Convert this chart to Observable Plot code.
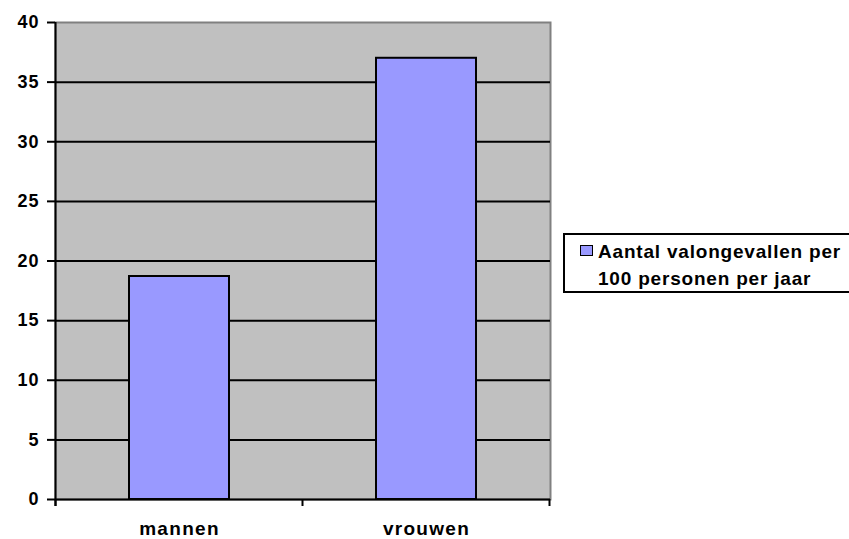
<!DOCTYPE html>
<html>
<head>
<meta charset="utf-8">
<script src="https://cdn.jsdelivr.net/npm/d3@7"></script>
<script src="https://cdn.jsdelivr.net/npm/@observablehq/plot@0.6"></script>
<style>
  html, body { margin: 0; padding: 0; background: #fff; }
  #wrap { position: relative; width: 849px; height: 539px; overflow: hidden; font-family: "Liberation Sans", Arial, sans-serif; }
  #wrap svg { display: block; }
  g[aria-label="y-axis tick label"] text { letter-spacing: 1px; }
  g[aria-label="x-axis tick label"] text { letter-spacing: 1.3px; }
  .legend {
    position: absolute; left: 563px; top: 233px; width: 290px; height: 56px;
    border: 2px solid #000; background: #fff; box-sizing: content-box;
    font-weight: bold; font-size: 19px; letter-spacing: 0.8px; line-height: 26.6px;
  }
  .legend .swatch {
    position: absolute; left: 15px; top: 10px; width: 11px; height: 9px;
    background: #9999ff; border: 1.5px solid #000;
  }
  .legend .label { position: absolute; left: 33px; top: 4px; white-space: nowrap; }
</style>
</head>
<body>
<div id="wrap"></div>
<script>
// Valongevallen per geslacht
const categories = ["mannen", "vrouwen"];
const values = [18.7, 37.0];
const yTicks = [0, 5, 10, 15, 20, 25, 30, 35, 40];
const seriesName = "Aantal valongevallen per 100 personen per jaar";

const data = categories.map((c, i) => ({sex: c, value: values[i]}));

// Left axis line plus short ticks on the category boundaries of the x axis
function categoryBoundaries(index, scales, vals, dim) {
  const x = scales.x, y = scales.y;
  const bw = x.bandwidth();
  const centers = categories.map(c => x(c) + bw / 2);
  const step = centers.length > 1 ? centers[1] - centers[0] : dim.width - dim.marginLeft - dim.marginRight;
  const edges = [centers[0] - step / 2, ...centers.map(c => c + step / 2)];
  const y0 = y(0);
  const g = d3.create("svg:g").attr("stroke", "#000").attr("stroke-width", 2);
  g.append("line").attr("x1", edges[0]).attr("x2", edges[0])
    .attr("y1", y(d3.max(yTicks))).attr("y2", y0 + 7);
  for (const e of edges) {
    g.append("line").attr("x1", e).attr("x2", e).attr("y1", y0).attr("y2", y0 + 7);
  }
  return g.node();
}

const chart = Plot.plot({
  width: 849,
  height: 539,
  marginLeft: 55,
  marginRight: 299,
  marginTop: 22,
  marginBottom: 40,
  style: {fontFamily: "'Liberation Sans', Arial, sans-serif", color: "#000", background: "#fff"},
  x: {domain: categories, paddingInner: 0.595, paddingOuter: 0.2975, label: null},
  y: {domain: [0, 40], label: null},
  marks: [
    Plot.frame({fill: "#c0c0c0", stroke: "#808080", strokeWidth: 2}),
    Plot.ruleY(yTicks.filter(t => t > 0 && t < 40), {stroke: "#000", strokeWidth: 2}),
    Plot.barY(data, {x: "sex", y: "value", fill: "#9999ff", stroke: "#000", strokeWidth: 2}),
    Plot.ruleY([0], {stroke: "#000", strokeWidth: 2}),
    categoryBoundaries,
    Plot.axisY({ticks: yTicks, tickSize: 8, tickPadding: 8, stroke: "#000", strokeWidth: 2,
      fontSize: 18, fontWeight: "bold", label: null}),
    Plot.axisX({tickSize: 0, tickPadding: 22, fontSize: 19, fontWeight: "bold", label: null})
  ]
});

const wrap = document.getElementById("wrap");
wrap.appendChild(chart);

const legend = document.createElement("div");
legend.className = "legend";
const sw = document.createElement("div");
sw.className = "swatch";
const lab = document.createElement("div");
lab.className = "label";
lab.innerHTML = "Aantal valongevallen per<br>100 personen per jaar";
lab.setAttribute("title", seriesName);
legend.appendChild(sw);
legend.appendChild(lab);
wrap.appendChild(legend);
</script>
</body>
</html>
